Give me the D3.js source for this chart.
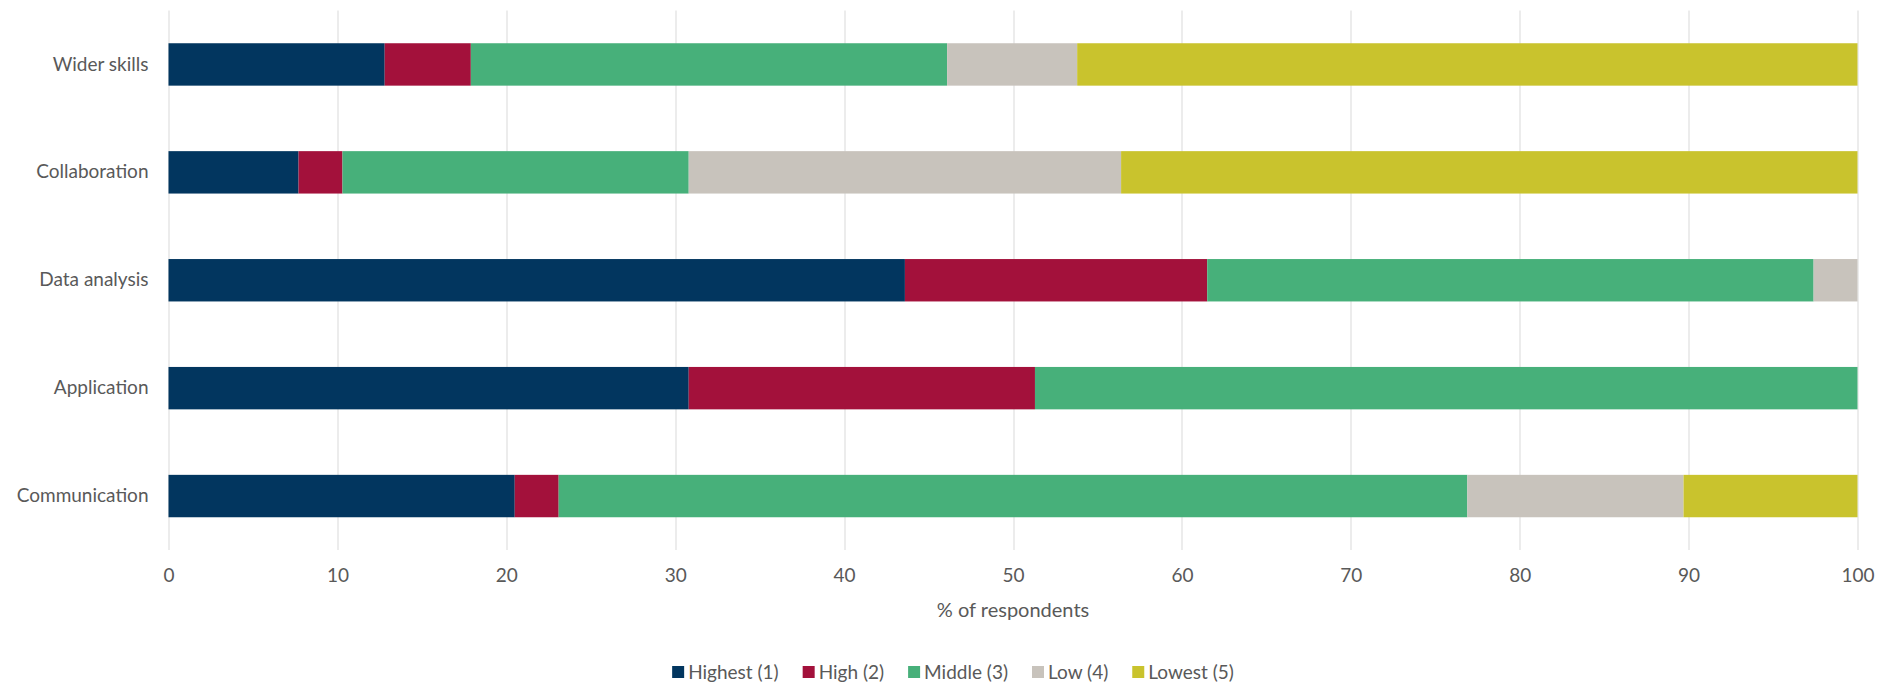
<!DOCTYPE html>
<html>
<head>
<meta charset="utf-8">
<script src="https://cdn.jsdelivr.net/npm/d3@7"></script>
<style>
  html, body { margin: 0; padding: 0; background: #ffffff; }
  svg { display: block; }
  text { font-family: Lato, "Open Sans", sans-serif; fill: #595959; }
</style>
</head>
<body>
<svg id="chart" width="1890" height="683"></svg>
<script>
// ---- data ----
const categories = ["Wider skills", "Collaboration", "Data analysis", "Application", "Communication"];
const seriesNames = ["Highest (1)", "High (2)", "Middle (3)", "Low (4)", "Lowest (5)"];
const highest = [12.8, 7.7, 43.6, 30.8, 20.5];
const high    = [5.1, 2.6, 17.9, 20.5, 2.6];
const middle  = [28.2, 20.5, 35.9, 48.7, 53.8];
const low     = [7.7, 25.6, 2.6, 0, 12.8];
const lowest  = [46.2, 43.6, 0, 0, 10.3];
const xTicks  = [0, 10, 20, 30, 40, 50, 60, 70, 80, 90, 100];
const xTitle  = "% of respondents";
const colors  = ["#02365f", "#a3113b", "#47b07a", "#c8c3bc", "#c9c32d"];

// ---- build table ----
const seriesValues = [highest, high, middle, low, lowest];
const rows = categories.map((c, i) => {
  const r = { category: c };
  seriesNames.forEach((s, j) => r[s] = seriesValues[j][i]);
  return r;
});
const stacked = d3.stack().keys(seriesNames)(rows);

// ---- layout ----
const svg = d3.select("#chart");
const margin = { left: 168.5, right: 1890 - 1857.5, top: 10.5, bottom: 683 - 550 };
const width = 1890 - margin.left - margin.right;
const height = 683 - margin.top - margin.bottom;

const x = d3.scaleLinear().domain([0, 100]).range([0, width]);
const y = d3.scaleBand().domain(categories).range([0, height]).paddingInner(0.607).paddingOuter(0.3035);
const color = d3.scaleOrdinal().domain(seriesNames).range(colors);

const g = svg.append("g").attr("transform", `translate(${margin.left},${margin.top})`);

// gridlines
g.append("g")
  .selectAll("line")
  .data(xTicks)
  .join("line")
  .attr("x1", d => Math.round(x(d)) + 0.5)
  .attr("x2", d => Math.round(x(d)) + 0.5)
  .attr("y1", 0)
  .attr("y2", height)
  .attr("stroke", "#d9d9d9")
  .attr("stroke-width", 1);

// bars
g.append("g")
  .selectAll("g")
  .data(stacked)
  .join("g")
  .attr("fill", d => color(d.key))
  .selectAll("rect")
  .data(d => d)
  .join("rect")
  .attr("x", d => x(d[0]))
  .attr("y", d => y(d.data.category))
  .attr("width", d => Math.max(0, x(d[1]) - x(d[0])))
  .attr("height", y.bandwidth());

// x axis
const xAxis = g.append("g")
  .attr("transform", `translate(0,${height})`)
  .call(d3.axisBottom(x).tickValues(xTicks).tickSize(0).tickPadding(19).tickFormat(d3.format("d")));
xAxis.select(".domain").remove();
xAxis.selectAll("text").style("font-size", "19px").attr("fill", "#595959");

// y axis labels
const yAxis = g.append("g")
  .call(d3.axisLeft(y).tickSize(0).tickPadding(20));
yAxis.select(".domain").remove();
yAxis.selectAll("text").style("font-size", "19px").attr("fill", "#595959");

// axis title
svg.append("text")
  .attr("x", margin.left + width / 2)
  .attr("y", 617)
  .attr("text-anchor", "middle")
  .style("font-size", "20px")
  .text(xTitle);

// legend
const legend = svg.append("g");
let cursor = 0;
seriesNames.forEach((s, i) => {
  const item = legend.append("g").attr("transform", `translate(${cursor},0)`);
  item.append("rect").attr("x", 0).attr("y", -6).attr("width", 12).attr("height", 12).attr("fill", color(s));
  const t = item.append("text").attr("x", 16).attr("y", 0).attr("dy", "0.35em")
    .style("font-size", "19px").text(s);
  cursor += 16 + t.node().getComputedTextLength() + 24;
});
const legendWidth = cursor - 24;
legend.attr("transform", `translate(${953 - legendWidth / 2},672)`);
</script>
</body>
</html>
